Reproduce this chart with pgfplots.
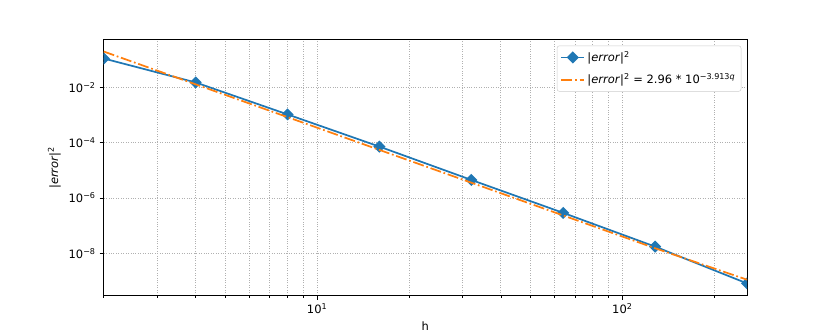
\documentclass[border=0pt]{standalone}
\usepackage{fontspec}
\setmainfont{DejaVu Sans}
\usepackage{pgfplots}
\pgfplotsset{compat=1.18}
\definecolor{mplblue}{HTML}{1F77B4}
\definecolor{mplorange}{HTML}{FF7F0E}
\definecolor{gridgray}{HTML}{B0B0B0}

\begin{document}
\begin{tikzpicture}
\useasboundingbox (-1.25in,-0.44in) rectangle (8.75in,3.56in);
\begin{axis}[
    at={(0,0)}, anchor=south west,
    width=7.75in, height=3.08in, scale only axis,
    xmode=log, ymode=log,
    xmin=2, xmax=256, ymin=3e-10, ymax=0.52,
    clip mode=individual, clip marker paths=true,
    axis line style={line width=0.8pt},
    tick align=outside, tick pos=left,
    major tick length=3.5pt, minor tick length=2pt,
    tick style={line width=0.8pt, black},
    minor tick style={line width=0.6pt, black},
    xtick={10,100}, xticklabels={10\textsuperscript{1},10\textsuperscript{2}},
    minor xtick={2,3,4,5,6,7,8,9,20,30,40,50,60,70,80,90,200},
    ytick={1e-2,1e-4,1e-6,1e-8},
    yticklabels={10\textsuperscript{−2},10\textsuperscript{−4},10\textsuperscript{−6},10\textsuperscript{−8}},
    yminorticks=false,
    xmajorgrids, xminorgrids, ymajorgrids,
    major grid style={gridgray, line width=0.8pt, dash pattern=on 0.8pt off 1.32pt},
    minor grid style={gridgray, line width=0.8pt, dash pattern=on 0.8pt off 1.32pt},
    xlabel={h},
    ylabel={|\textit{error}|\textsuperscript{2}},
    ticklabel style={font=\fontsize{10}{12}\selectfont},
    label style={font=\fontsize{10}{12}\selectfont},
    legend cell align=left,
    legend style={at={(1,1)}, xshift=-5pt, yshift=-5pt, anchor=north east,
        draw=black!20, rounded corners=2pt, fill=white,
        inner sep=3pt, row sep=5pt,
        font=\fontsize{10}{12}\selectfont},
    legend image code/.code={\draw[mark repeat=2, mark phase=2, #1] plot coordinates {(0cm,0cm) (0.35cm,0cm) (0.7cm,0cm)};},
]
% measured squared error
\addplot[mplblue, line width=1.5pt, mark=square*, mark size=3pt,
    mark options={rotate=45, solid}] coordinates {
    (2,1.1e-1) (4,1.5e-2) (8,1.05e-3) (16,7.2e-5)
    (32,4.5e-6) (64,2.9e-7) (128,1.75e-8) (256,8.2e-10)};
\addlegendentry{|\textit{error}|\textsuperscript{2}}
% fitted line
\addplot[mplorange, line width=1.5pt, dash pattern=on 9.6pt off 2.4pt on 1.5pt off 2.4pt] coordinates {
    (2,0.1965) (16,5.47e-5) (128,1.53e-8) (256,1.117e-9)};
\addlegendentry{|\textit{error}|\textsuperscript{2} = 2.96 * 10\textsuperscript{−3.913\textit{q}}}
\end{axis}
\end{tikzpicture}
\end{document}
